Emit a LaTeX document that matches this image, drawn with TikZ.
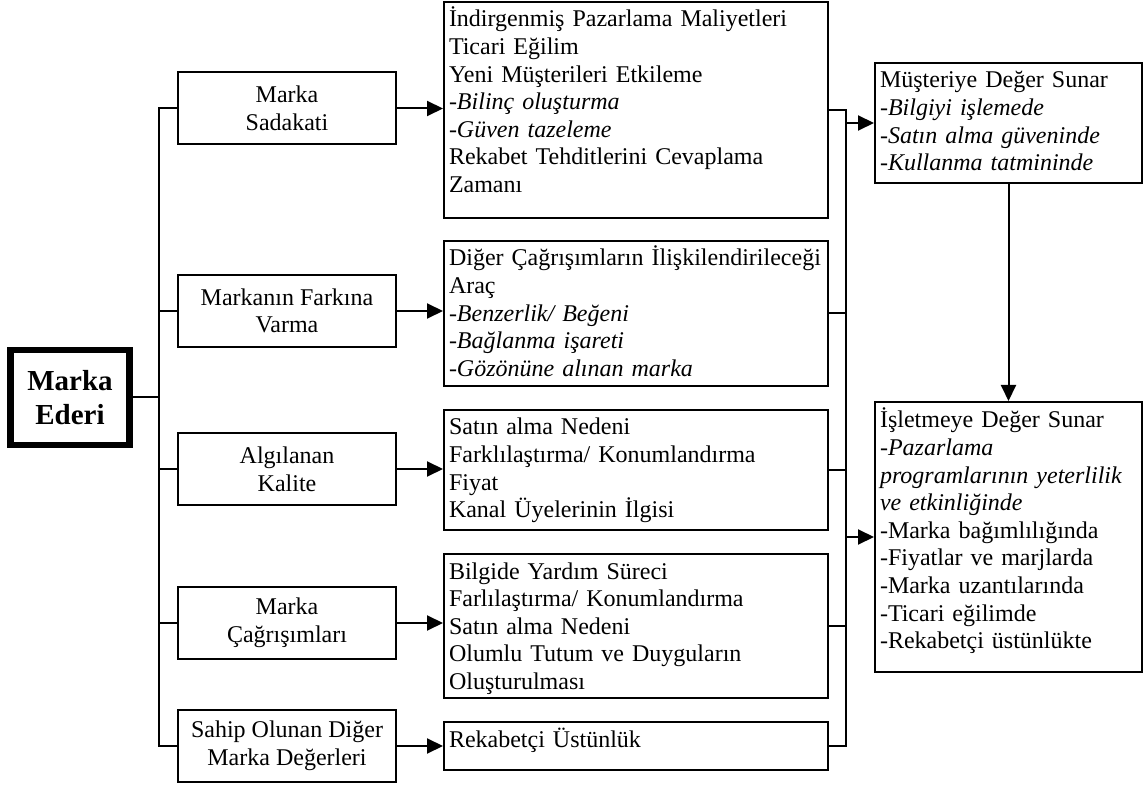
\documentclass[tikz,border=0pt]{standalone}
\usepackage{fontspec}
\setmainfont{Liberation Serif}
\usetikzlibrary{arrows.meta}
\begin{document}
\begin{tikzpicture}[x=1pt,y=-1pt,
  line width=2pt,
  every node/.style={font=\fontsize{24}{27.6}\selectfont},
  ederibox/.style={draw, line width=6.5pt, minimum width=119pt, minimum height=95pt,
    align=center, inner sep=0pt, font=\bfseries\fontsize{29}{34}\selectfont},
  leftbox/.style={draw, minimum width=218pt, minimum height=72pt, align=center, inner sep=0pt},
  listbox/.style={draw, anchor=north west, align=left, inner xsep=5pt, inner ysep=0pt,
    text height=25pt},
  arr/.style={-{Triangle[length=16pt,width=15pt]}}
]
\useasboundingbox (0,0) rectangle (1144,786);

% root
\node[ederibox] (ederi) at (70,397.5) {Marka\\Ederi};

% brand equity dimensions
\node[leftbox] (l1) at (287,108.5) {Marka\\Sadakati};
\node[leftbox] (l2) at (287,311) {Markanın Farkına\\Varma};
\node[leftbox] (l3) at (287,469) {Algılanan\\Kalite};
\node[leftbox] (l4) at (287,623) {Marka\\Çağrışımları};
\node[leftbox] (l5) at (287,746) {Sahip Olunan Diğer\\Marka Değerleri};

% what each dimension yields
\node[listbox, text width=374pt, text depth=191pt] (m1) at (443,1)
  {İndirgenmiş Pazarlama Maliyetleri\\Ticari Eğilim\\Yeni Müşterileri Etkileme\\
   -\textit{Bilinç oluşturma}\\-\textit{Güven tazeleme}\\Rekabet Tehditlerini Cevaplama\\Zamanı};
\node[listbox, text width=374pt, text depth=120pt] (m2) at (443,240)
  {Diğer Çağrışımların İlişkilendirileceği\\Araç\\-\textit{Benzerlik/ Beğeni}\\
   -\textit{Bağlanma işareti}\\-\textit{Gözönüne alınan marka}};
\node[listbox, text width=374pt, text depth=95pt] (m3) at (443,409)
  {Satın alma Nedeni\\Farklılaştırma/ Konumlandırma\\Fiyat\\Kanal Üyelerinin İlgisi};
\node[listbox, text width=374pt, text depth=119pt] (m4) at (443,553)
  {Bilgide Yardım Süreci\\Farlılaştırma/ Konumlandırma\\Satın alma Nedeni\\
   Olumlu Tutum ve Duyguların\\Oluşturulması};
\node[listbox, text width=374pt, text depth=23pt] (m5) at (443,721)
  {Rekabetçi Üstünlük};

% value delivered
\node[listbox, text width=257pt, text depth=95pt] (r1) at (874,62)
  {Müşteriye Değer Sunar\\-\textit{Bilgiyi işlemede}\\-\textit{Satın alma güveninde}\\
   -\textit{Kullanma tatmininde}};
\node[listbox, text width=257pt, text depth=244pt, text height=26pt] (r2) at (874,401)
  {İşletmeye Değer Sunar\\-\textit{Pazarlama}\\\textit{programlarının yeterlilik}\\
   \textit{ve etkinliğinde}\\-Marka bağımlılığında\\-Fiyatlar ve marjlarda\\
   -Marka uzantılarında\\-Ticari eğilimde\\-Rekabetçi üstünlükte};

% left bracket
\coordinate (lt) at (159,0);
\draw (ederi.east) -- (ederi.east -| lt);
\draw (l1.west) -- (l1.west -| lt) -- (l5.west -| lt) -- (l5.west);
\foreach \n in {l2,l3,l4} \draw (\n.west) -- (\n.west -| lt);

% dimension -> outcome arrows
\draw[arr] (l1.east) -- (l1.east -| m1.west);
\draw[arr] (l2.east) -- (l2.east -| m2.west);
\draw[arr] (l3.east) -- (l3.east -| m3.west);
\draw[arr] (l4.east) -- (l4.east -| m4.west);
\draw[arr] (l5.east) -- (l5.east -| m5.west);

% right bracket
\coordinate (rt) at (846,0);
\draw (m1.east) -- (m1.east -| rt) -- (m5.east -| rt) -- (m5.east);
\foreach \n in {m2,m3,m4} \draw (\n.east) -- (\n.east -| rt);
\draw[arr] (r1.west -| rt) -- (r1.west);
\draw[arr] (r2.west -| rt) -- (r2.west);
\draw[arr] (r1.south) -- (r2.north);
\end{tikzpicture}
\end{document}
